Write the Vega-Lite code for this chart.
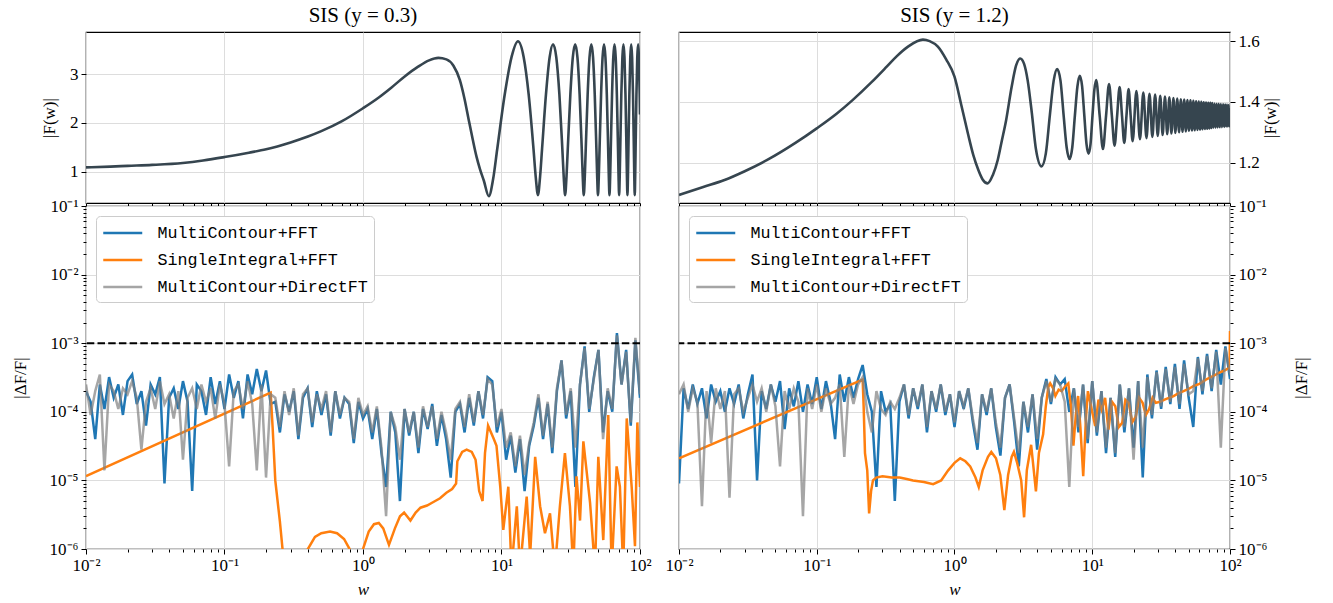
{
"$schema": "https://vega.github.io/schema/vega-lite/v6.json",
"background": "white",
"padding": {"left": 10, "top": 4, "right": 5, "bottom": 4},
"config": {
  "view": {"stroke": "black", "strokeWidth": 1.2},
  "axis": {"domain": false, "tickColor": "black", "tickWidth": 1, "labelFont": "Liberation Serif", "labelFontSize": 17, "labelColor": "black", "titleFont": "Liberation Serif", "titleFontSize": 17, "titleFontWeight": "normal", "titleColor": "black", "gridColor": "#dddddd", "gridWidth": 1, "labelPadding": 3, "labelFlush": false, "labelOverlap": false},
  "legend": {"orient": "top-left", "offset": 10, "symbolType": "M-1,0H3", "symbolSize": 380, "symbolStrokeWidth": 2.5, "labelFont": "Liberation Mono", "labelFontSize": 16.7, "labelLimit": 500, "labelColor": "black", "strokeColor": "#cccccc", "fillColor": "white", "cornerRadius": 4, "padding": 6, "rowPadding": 7, "labelOffset": 33.5},
  "title": {"font": "Liberation Serif", "fontSize": 21, "fontWeight": "normal", "color": "black", "offset": 6, "anchor": "middle"}
},
"datasets": {
"TL": [
{"w":0.01,"F":1.09},{"w":0.015,"F":1.105},{"w":0.02,"F":1.12},{"w":0.03,"F":1.14},{"w":0.05,"F":1.18},{"w":0.07,"F":1.23},{"w":0.1,"F":1.30},{"w":0.15,"F":1.39},{"w":0.2,"F":1.46},{"w":0.3,"F":1.60},{"w":0.4,"F":1.72},{"w":0.5,"F":1.83},{"w":0.7,"F":2.03},{"w":1.0,"F":2.30},{"w":1.3,"F":2.52},{"w":1.6,"F":2.72},{"w":2.0,"F":2.95},{"w":2.5,"F":3.15},{"w":3.0,"F":3.28},{"w":3.5,"F":3.33},{"w":4.0,"F":3.30},{"w":4.5,"F":3.17},{"w":5.0,"F":2.88},{"w":5.4,"F":2.50},{"w":5.8,"F":2.06},{"w":6.2,"F":1.66},{"w":6.6,"F":1.31},{"w":7.0,"F":1.05},{"w":7.45,"F":0.82},{"w":8.1,"F":0.50},{"w":8.7,"F":0.85},{"w":9.3,"F":1.45},{"w":10.55,"F":2.58},{"w":11.85,"F":3.36},{"w":13.15,"F":3.67},{"w":14.45,"F":3.35},{"w":15.708,"F":2.582},{"w":17.017,"F":1.473},{"w":17.672,"F":0.89},{"w":18.326,"F":0.52},{"w":18.98,"F":0.89},{"w":19.635,"F":1.473},{"w":20.944,"F":2.582},{"w":22.253,"F":3.341},{"w":23.562,"F":3.61},{"w":24.871,"F":3.341},{"w":26.18,"F":2.582},{"w":27.489,"F":1.473},{"w":28.144,"F":0.89},{"w":28.798,"F":0.52},{"w":29.452,"F":0.89},{"w":30.107,"F":1.473},{"w":31.416,"F":2.582},{"w":32.725,"F":3.341},{"w":34.034,"F":3.61},{"w":35.343,"F":3.341},{"w":36.652,"F":2.582},{"w":37.961,"F":1.473},{"w":38.616,"F":0.89},{"w":39.27,"F":0.52},{"w":39.924,"F":0.89},{"w":40.579,"F":1.473},{"w":41.888,"F":2.582},{"w":43.197,"F":3.341},{"w":44.506,"F":3.61},{"w":45.815,"F":3.341},{"w":47.124,"F":2.582},{"w":48.433,"F":1.473},{"w":49.088,"F":0.89},{"w":49.742,"F":0.52},{"w":50.396,"F":0.89},{"w":51.051,"F":1.473},{"w":52.36,"F":2.582},{"w":53.669,"F":3.341},{"w":54.978,"F":3.61},{"w":56.287,"F":3.341},{"w":57.596,"F":2.582},{"w":58.905,"F":1.473},{"w":59.56,"F":0.89},{"w":60.214,"F":0.52},{"w":60.868,"F":0.89},{"w":61.523,"F":1.473},{"w":62.832,"F":2.582},{"w":64.141,"F":3.341},{"w":65.45,"F":3.61},{"w":66.759,"F":3.341},{"w":68.068,"F":2.582},{"w":69.377,"F":1.473},{"w":70.032,"F":0.89},{"w":70.686,"F":0.52},{"w":71.34,"F":0.89},{"w":71.995,"F":1.473},{"w":73.304,"F":2.582},{"w":74.613,"F":3.341},{"w":75.922,"F":3.61},{"w":77.231,"F":3.341},{"w":78.54,"F":2.582},{"w":79.849,"F":1.473},{"w":80.504,"F":0.89},{"w":81.158,"F":0.52},{"w":81.812,"F":0.89},{"w":82.467,"F":1.473},{"w":83.776,"F":2.582},{"w":85.085,"F":3.341},{"w":86.394,"F":3.61},{"w":87.703,"F":3.341},{"w":89.012,"F":2.582},{"w":90.321,"F":1.473},{"w":90.976,"F":0.89},{"w":91.63,"F":0.52},{"w":92.284,"F":0.89},{"w":92.939,"F":1.473},{"w":94.248,"F":2.582},{"w":95.557,"F":3.341},{"w":96.866,"F":3.61},{"w":98.175,"F":3.341},{"w":99.484,"F":2.582},{"w":100,"F":2.17}
],
"TR": [
{"w":0.01,"F":1.094},{"w":0.015,"F":1.12},{"w":0.0214,"F":1.143},{"w":0.03,"F":1.172},{"w":0.0437,"F":1.209},{"w":0.07,"F":1.265},{"w":0.1,"F":1.313},{"w":0.14,"F":1.362},{"w":0.182,"F":1.406},{"w":0.25,"F":1.465},{"w":0.322,"F":1.516},{"w":0.38,"F":1.55},{"w":0.46,"F":1.582},{"w":0.59,"F":1.605},{"w":0.66,"F":1.600},{"w":0.757,"F":1.582},{"w":0.87,"F":1.54},{"w":1.0,"F":1.483},{"w":1.12,"F":1.39},{"w":1.25,"F":1.297},{"w":1.37,"F":1.225},{"w":1.49,"F":1.176},{"w":1.6,"F":1.145},{"w":1.74,"F":1.132},{"w":1.9,"F":1.16},{"w":2.06,"F":1.209},{"w":2.2,"F":1.27},{"w":2.37,"F":1.34},{"w":2.6,"F":1.45},{"w":2.8,"F":1.52},{"w":3.0,"F":1.543},{"w":3.2,"F":1.525},{"w":3.4,"F":1.47},{"w":3.64,"F":1.365},{"w":3.9,"F":1.245},{"w":4.28,"F":1.188},{"w":4.6,"F":1.23},{"w":4.92,"F":1.355},{"w":5.25,"F":1.47},{"w":5.56,"F":1.508},{"w":5.88,"F":1.47},{"w":6.2,"F":1.355},{"w":6.52,"F":1.25},{"w":6.84,"F":1.212},{"w":7.16,"F":1.25},{"w":7.48,"F":1.355},{"w":7.8,"F":1.45},{"w":8.12,"F":1.486},{"w":8.44,"F":1.452},{"w":8.76,"F":1.355},{"w":9.08,"F":1.262},{"w":9.4,"F":1.23},{"w":9.72,"F":1.262},{"w":10.04,"F":1.355},{"w":10.36,"F":1.44},{"w":10.68,"F":1.472},{"w":11.32,"F":1.355},{"w":11.96,"F":1.245},{"w":12.6,"F":1.355},{"w":13.24,"F":1.459},{"w":13.88,"F":1.355},{"w":14.52,"F":1.256},{"w":15.16,"F":1.355},{"w":15.8,"F":1.449},{"w":16.44,"F":1.355},{"w":17.08,"F":1.265},{"w":17.72,"F":1.355},{"w":18.36,"F":1.442},{"w":19.0,"F":1.355},{"w":19.64,"F":1.271},{"w":20.92,"F":1.436},{"w":22.2,"F":1.277},{"w":23.48,"F":1.431},{"w":24.76,"F":1.281},{"w":26.04,"F":1.427},{"w":27.32,"F":1.285},{"w":28.6,"F":1.424},{"w":29.88,"F":1.288},{"w":31.16,"F":1.42},{"w":32.44,"F":1.291},{"w":33.72,"F":1.418},{"w":35.0,"F":1.294},{"w":36.28,"F":1.415},{"w":37.56,"F":1.296},{"w":38.84,"F":1.413},{"w":40.12,"F":1.298},{"w":41.4,"F":1.411},{"w":42.68,"F":1.3},{"w":43.96,"F":1.409},{"w":45.24,"F":1.302},{"w":46.52,"F":1.408},{"w":47.8,"F":1.303},{"w":49.08,"F":1.406},{"w":50.36,"F":1.305},{"w":51.64,"F":1.405},{"w":52.92,"F":1.306},{"w":54.2,"F":1.404},{"w":55.48,"F":1.307},{"w":56.76,"F":1.402},{"w":58.04,"F":1.308},{"w":59.32,"F":1.401},{"w":60.6,"F":1.309},{"w":61.88,"F":1.4},{"w":63.16,"F":1.31},{"w":64.44,"F":1.399},{"w":65.72,"F":1.311},{"w":67.0,"F":1.398},{"w":68.28,"F":1.312},{"w":69.56,"F":1.397},{"w":70.84,"F":1.313},{"w":72.12,"F":1.397},{"w":73.4,"F":1.314},{"w":74.68,"F":1.396},{"w":75.96,"F":1.315},{"w":77.24,"F":1.395},{"w":78.52,"F":1.315},{"w":79.8,"F":1.394},{"w":81.08,"F":1.316},{"w":82.36,"F":1.394},{"w":83.64,"F":1.317},{"w":84.92,"F":1.393},{"w":86.2,"F":1.317},{"w":87.48,"F":1.392},{"w":88.76,"F":1.318},{"w":90.04,"F":1.392},{"w":91.32,"F":1.318},{"w":92.6,"F":1.391},{"w":93.88,"F":1.319},{"w":95.16,"F":1.391},{"w":96.44,"F":1.319},{"w":97.72,"F":1.39},{"w":99.0,"F":1.32},{"w":100,"F":1.38}
],
"LB": [
{"w":0.01,"b":2.0e-4,"g":2.5e-4},{"w":0.0108,"b":1.4e-4,"g":9e-5},{"w":0.01166,"b":4.0e-5,"g":2.0e-4},{"w":0.01259,"b":2.5e-4,"g":3.5e-4},{"w":0.01359,"b":1.1e-4,"g":1.4e-5},{"w":0.01468,"b":3.2e-4,"g":2.5e-4},{"w":0.01585,"b":1.6e-4,"g":2.0e-4},{"w":0.01711,"b":2.5e-4,"g":1.1e-4},{"w":0.01848,"b":9e-5,"g":2.2e-4},{"w":0.01995,"b":2.8e-4,"g":1.8e-4},
{"w":0.02154,"b":3.5e-4,"g":2.8e-4},{"w":0.02326,"b":1.3e-4,"g":1.6e-4},{"w":0.02512,"b":2.0e-4,"g":2.8e-5},{"w":0.02712,"b":6.3e-5,"g":1.4e-4},{"w":0.02929,"b":2.5e-4,"g":2.2e-4},{"w":0.03162,"b":1.8e-4,"g":1.1e-4},{"w":0.03415,"b":3.2e-4,"g":2.8e-4},{"w":0.03687,"b":9e-6,"g":1.3e-4},{"w":0.03981,"b":1.6e-4,"g":1.8e-4},{"w":0.04299,"b":2.2e-4,"g":8e-5},
{"w":0.04642,"b":1.1e-4,"g":2.0e-4},{"w":0.05012,"b":2.8e-4,"g":2.0e-5},{"w":0.05412,"b":1.4e-4,"g":1.6e-4},{"w":0.05843,"b":7e-6,"g":2.2e-4},{"w":0.0631,"b":2.5e-4,"g":1.1e-4},{"w":0.06813,"b":2.0e-4,"g":2.5e-4},{"w":0.07356,"b":9e-5,"g":1.4e-4},{"w":0.07943,"b":3.2e-4,"g":2.2e-4},{"w":0.08577,"b":1.3e-4,"g":8e-5},{"w":0.09261,"b":2.8e-4,"g":2.5e-4},
{"w":0.1,"b":1.1e-4,"g":1.3e-4},{"w":0.108,"b":3.5e-4,"g":1.6e-5},{"w":0.1166,"b":1.6e-4,"g":2.0e-4},{"w":0.1259,"b":2.8e-4,"g":2.5e-4},{"w":0.1359,"b":8e-5,"g":1.1e-4},{"w":0.1468,"b":3.5e-4,"g":2.8e-4},{"w":0.1585,"b":1.8e-4,"g":1.3e-4},{"w":0.1711,"b":4.2e-4,"g":1.4e-5},{"w":0.1848,"b":2.0e-4,"g":2.5e-4},{"w":0.1995,"b":4.0e-4,"g":1.1e-5},
{"w":0.2154,"b":1.3e-4,"g":1.8e-4},{"w":0.2326,"b":1.4e-4,"g":1.6e-4},{"w":0.2512,"b":5.0e-5,"g":6e-5},{"w":0.2712,"b":1.8e-4,"g":2.0e-4},{"w":0.2929,"b":1.0e-4,"g":9e-5},{"w":0.3162,"b":2.0e-4,"g":2.2e-4},{"w":0.3415,"b":4.0e-5,"g":4.5e-5},{"w":0.3687,"b":1.6e-4,"g":1.8e-4},{"w":0.3981,"b":2.2e-4,"g":2.2e-4},{"w":0.4299,"b":6e-5,"g":7e-5},
{"w":0.4642,"b":2.0e-4,"g":1.8e-4},{"w":0.5012,"b":9e-5,"g":1.1e-4},{"w":0.5412,"b":1.8e-4,"g":2.0e-4},{"w":0.5843,"b":4.5e-5,"g":5e-5},{"w":0.631,"b":2.0e-4,"g":2.0e-4},{"w":0.6813,"b":8e-5,"g":9e-5},{"w":0.7356,"b":1.6e-4,"g":1.6e-4},{"w":0.7943,"b":1.3e-4,"g":1.4e-4},{"w":0.8577,"b":3.5e-5,"g":4e-5},{"w":0.9261,"b":1.4e-4,"g":1.6e-4},
{"w":1.0,"b":8e-5,"g":9e-5},{"w":1.08,"b":1.1e-4,"g":1.2e-4},{"w":1.166,"b":4.0e-5,"g":5e-5},{"w":1.259,"b":1.1e-4,"g":1.2e-4},{"w":1.359,"b":2.5e-5,"g":3e-5},{"w":1.468,"b":8e-6,"g":3e-6},{"w":1.585,"b":1.0e-4,"g":1.0e-4},{"w":1.711,"b":5.0e-5,"g":6e-5},{"w":1.848,"b":5e-6,"g":2e-5},{"w":1.995,"b":1.1e-4,"g":1.1e-4},
{"w":2.154,"b":4.5e-5,"g":5e-5},{"w":2.326,"b":1.0e-4,"g":1.0e-4},{"w":2.512,"b":2.5e-5,"g":3e-5},{"w":2.712,"b":1.1e-4,"g":1.2e-4},{"w":2.929,"b":5.6e-5,"g":6e-5},{"w":3.162,"b":1.3e-4,"g":1.2e-4},{"w":3.415,"b":3.2e-5,"g":4e-5},{"w":3.687,"b":9e-5,"g":1.0e-4},{"w":3.981,"b":4.0e-5,"g":5e-5},{"w":4.299,"b":1.1e-5,"g":2e-5},
{"w":4.642,"b":1.0e-4,"g":1.1e-4},{"w":5.012,"b":1.3e-4,"g":1.4e-4},{"w":5.412,"b":5e-5,"g":6e-5},{"w":5.843,"b":1.6e-4,"g":1.8e-4},{"w":6.31,"b":6.3e-5,"g":7e-5},{"w":6.813,"b":2.0e-4,"g":2.0e-4},{"w":7.356,"b":8e-5,"g":9e-5},{"w":7.943,"b":3.2e-4,"g":3.0e-4},{"w":8.577,"b":2.8e-4,"g":2.5e-4},{"w":9.261,"b":5e-5,"g":6e-5},
{"w":10.0,"b":1.0e-4,"g":1.1e-4},{"w":10.8,"b":2.0e-5,"g":3e-5},{"w":11.66,"b":4.5e-5,"g":5e-5},{"w":12.59,"b":1.3e-5,"g":1.6e-5},{"w":13.59,"b":4.0e-5,"g":4.5e-5},{"w":14.68,"b":7e-6,"g":1.2e-5},{"w":15.85,"b":3.2e-5,"g":3.5e-5},{"w":17.11,"b":6.3e-5,"g":7e-5},{"w":18.48,"b":1.6e-4,"g":1.8e-4},{"w":19.95,"b":4.0e-5,"g":4.5e-5},
{"w":21.54,"b":1.3e-4,"g":1.4e-4},{"w":23.26,"b":2.5e-5,"g":3e-5},{"w":25.12,"b":2.0e-4,"g":2.2e-4},{"w":27.12,"b":5.6e-4,"g":5.6e-4},{"w":29.29,"b":8e-5,"g":9e-5},{"w":31.62,"b":2.0e-4,"g":2.2e-4},{"w":34.15,"b":8e-6,"g":3e-5},{"w":36.87,"b":2.5e-4,"g":2.5e-4},{"w":39.81,"b":9e-4,"g":8.5e-4},{"w":42.99,"b":1.0e-4,"g":1.1e-4},
{"w":46.42,"b":3.2e-4,"g":3.0e-4},{"w":50.12,"b":8e-4,"g":8e-4},{"w":54.12,"b":5e-5,"g":4e-5},{"w":58.43,"b":2.0e-4,"g":2.2e-4},{"w":63.1,"b":1.0e-4,"g":1.1e-4},{"w":68.13,"b":1.4e-3,"g":1.3e-3},{"w":73.56,"b":2.5e-4,"g":2.5e-4},{"w":79.43,"b":8e-4,"g":7.5e-4},{"w":85.77,"b":6.3e-5,"g":7e-5},{"w":92.61,"b":1.1e-3,"g":1.2e-3},{"w":100,"b":1.6e-4,"g":1.8e-4}
],
"LO": [
{"w":0.01,"v":1.15e-5},{"w":0.2154,"v":1.9e-4},{"w":0.2225,"v":6e-5},{"w":0.2326,"v":1e-5},{"w":0.2512,"v":2.5e-6},{"w":0.2712,"v":5e-7},{"w":0.3,"v":3e-7},{"w":0.37,"v":5e-7},{"w":0.4,"v":1.0e-6},{"w":0.45,"v":1.5e-6},{"w":0.5,"v":1.7e-6},{"w":0.578,"v":1.8e-6},{"w":0.65,"v":1.7e-6},{"w":0.73,"v":1.4e-6},{"w":0.8,"v":1.0e-6},{"w":0.85,"v":6e-7},{"w":0.95,"v":5e-7},{"w":1.0,"v":1.0e-6},{"w":1.1,"v":1.8e-6},{"w":1.2,"v":2.3e-6},{"w":1.3,"v":2.4e-6},{"w":1.4,"v":2.0e-6},{"w":1.54,"v":1.15e-6},{"w":1.7,"v":2.0e-6},{"w":1.85,"v":3.0e-6},{"w":1.98,"v":3.4e-6},{"w":2.2,"v":2.6e-6},{"w":2.4,"v":3.4e-6},{"w":2.6,"v":4.0e-6},{"w":2.9,"v":4.3e-6},{"w":3.2,"v":4.8e-6},{"w":3.6,"v":5.5e-6},{"w":4.0,"v":6.6e-6},{"w":4.4,"v":7.5e-6},{"w":4.7,"v":9e-6},{"w":4.8,"v":1.9e-5},{"w":5.2,"v":2.6e-5},{"w":5.6,"v":2.8e-5},{"w":6.1,"v":2.6e-5},{"w":6.5,"v":2.0e-5},{"w":6.9,"v":7e-6},{"w":7.3,"v":5e-6},{"w":7.6,"v":2.5e-5},{"w":8.0,"v":6.3e-5},{"w":8.4,"v":5e-5},{"w":8.8,"v":4e-5},{"w":9.2,"v":3.2e-5},{"w":9.8,"v":8e-6},
{"w":10.3,"v":1.9e-6},{"w":11.2,"v":8.1e-6},{"w":11.8,"v":5e-7},{"w":12.9,"v":4.2e-6},{"w":13.6,"v":5e-7},{"w":15.2,"v":5.8e-6},{"w":16.1,"v":8e-7},{"w":17.5,"v":2.2e-5},{"w":19.0,"v":4.2e-6},{"w":20.6,"v":1.7e-6},{"w":22.4,"v":3.3e-6},{"w":24.3,"v":5e-7},{"w":26.4,"v":4.2e-6},{"w":28.7,"v":2.5e-5},{"w":31.2,"v":4.2e-6},{"w":33.0,"v":5e-7},{"w":34.8,"v":1.15e-5},{"w":36.9,"v":2.6e-6},{"w":39.0,"v":3.7e-5},{"w":43.6,"v":4.7e-6},{"w":47.3,"v":5e-7},{"w":50.0,"v":2.2e-5},{"w":54.3,"v":1.35e-6},{"w":59.0,"v":9e-5},{"w":62.4,"v":5e-7},{"w":67.8,"v":1.6e-5},{"w":71.6,"v":8.1e-6},{"w":75.7,"v":5e-7},{"w":80.2,"v":8e-5},{"w":87.1,"v":8e-6},{"w":92.0,"v":1.1e-6},{"w":95.7,"v":7e-5},{"w":100,"v":8e-6}
],
"RB": [
{"w":0.01,"b":9e-6,"g":1.8e-4},{"w":0.0108,"b":2.2e-4,"g":2.5e-4},{"w":0.01166,"b":1.1e-4,"g":1.0e-4},{"w":0.01259,"b":2.5e-4,"g":2.2e-4},{"w":0.01359,"b":1.3e-4,"g":1.4e-4},{"w":0.01468,"b":2.2e-4,"g":4.2e-6},{"w":0.01585,"b":8e-5,"g":2.0e-4},{"w":0.01711,"b":2.5e-4,"g":3.5e-5},{"w":0.01848,"b":1.4e-4,"g":2.2e-4},{"w":0.01995,"b":2.0e-4,"g":1.1e-4},
{"w":0.02154,"b":1.0e-4,"g":2.0e-4},{"w":0.02326,"b":2.2e-4,"g":5.6e-6},{"w":0.02512,"b":1.3e-4,"g":1.8e-4},{"w":0.02712,"b":2.5e-4,"g":2.2e-4},{"w":0.02929,"b":8e-5,"g":1.0e-4},{"w":0.03162,"b":1.8e-4,"g":1.6e-4},{"w":0.03415,"b":3.5e-4,"g":2.5e-4},{"w":0.03687,"b":1.0e-5,"g":1.4e-4},{"w":0.03981,"b":2.0e-4,"g":2.2e-4},{"w":0.04299,"b":1.1e-4,"g":1.0e-4},
{"w":0.04642,"b":2.5e-4,"g":2.5e-4},{"w":0.05012,"b":1.4e-4,"g":1.2e-4},{"w":0.05412,"b":2.8e-4,"g":1.6e-5},{"w":0.05843,"b":5.6e-5,"g":2.0e-4},{"w":0.0631,"b":2.2e-4,"g":1.1e-4},{"w":0.06813,"b":1.2e-4,"g":2.2e-4},{"w":0.07356,"b":2.8e-4,"g":1.4e-4},{"w":0.07943,"b":1.0e-4,"g":3e-6},{"w":0.08577,"b":2.5e-4,"g":2.2e-4},{"w":0.09261,"b":1.3e-4,"g":1.1e-4},
{"w":0.1,"b":3.2e-4,"g":2.5e-4},{"w":0.108,"b":1.1e-4,"g":1.0e-4},{"w":0.1166,"b":2.8e-4,"g":2.2e-4},{"w":0.1259,"b":1.4e-4,"g":1.3e-4},{"w":0.1359,"b":4.0e-5,"g":1.6e-4},{"w":0.1468,"b":3.5e-4,"g":2.5e-4},{"w":0.1585,"b":1.4e-4,"g":2.2e-5},{"w":0.1711,"b":3.2e-4,"g":2.5e-4},{"w":0.1848,"b":1.6e-4,"g":1.3e-4},{"w":0.1995,"b":3.0e-4,"g":2.5e-4},
{"w":0.2154,"b":4.8e-4,"g":3.2e-4},{"w":0.2326,"b":1.8e-4,"g":1.0e-4},{"w":0.2512,"b":1.0e-4,"g":5e-5},{"w":0.2712,"b":8e-6,"g":2.0e-4},{"w":0.2929,"b":2.0e-4,"g":1.1e-4},{"w":0.3162,"b":1.0e-4,"g":9e-5},{"w":0.3415,"b":1.3e-4,"g":1.4e-4},{"w":0.3687,"b":5e-6,"g":1.1e-4},{"w":0.3981,"b":1.4e-4,"g":1.6e-4},{"w":0.4299,"b":2.5e-4,"g":2.5e-4},
{"w":0.4642,"b":8e-5,"g":9e-5},{"w":0.5012,"b":2.2e-4,"g":2.2e-4},{"w":0.5412,"b":1.1e-4,"g":1.2e-4},{"w":0.5843,"b":2.5e-4,"g":2.5e-4},{"w":0.631,"b":5e-5,"g":6e-5},{"w":0.6813,"b":2.0e-4,"g":2.0e-4},{"w":0.7356,"b":1.0e-4,"g":1.1e-4},{"w":0.7943,"b":2.5e-4,"g":2.5e-4},{"w":0.8577,"b":9e-5,"g":1.0e-4},{"w":0.9261,"b":1.8e-4,"g":1.8e-4},
{"w":1.0,"b":6e-5,"g":7e-5},{"w":1.08,"b":2.0e-4,"g":2.0e-4},{"w":1.166,"b":1.1e-4,"g":1.2e-4},{"w":1.259,"b":2.2e-4,"g":2.2e-4},{"w":1.359,"b":7e-5,"g":8e-5},{"w":1.468,"b":2.8e-5,"g":3.5e-5},{"w":1.585,"b":1.8e-4,"g":1.8e-4},{"w":1.711,"b":9e-5,"g":1.0e-4},{"w":1.848,"b":2.2e-4,"g":2.2e-4},{"w":1.995,"b":6e-5,"g":7e-5},
{"w":2.154,"b":2.3e-5,"g":3e-5},{"w":2.326,"b":1.6e-4,"g":1.6e-4},{"w":2.512,"b":2.5e-4,"g":2.5e-4},{"w":2.712,"b":7e-5,"g":8e-5},{"w":2.929,"b":1.6e-5,"g":2.5e-5},{"w":3.162,"b":1.4e-4,"g":1.4e-4},{"w":3.415,"b":5e-5,"g":6e-5},{"w":3.687,"b":1.8e-4,"g":1.8e-4},{"w":3.981,"b":2.8e-5,"g":4e-5},{"w":4.299,"b":1.6e-4,"g":1.6e-4},
{"w":4.642,"b":3.0e-4,"g":2.8e-4},{"w":5.012,"b":1.3e-4,"g":1.4e-4},{"w":5.412,"b":3.2e-4,"g":3.0e-4},{"w":5.843,"b":2.5e-4,"g":2.5e-4},{"w":6.31,"b":3.0e-4,"g":1.4e-4},{"w":6.813,"b":1.0e-4,"g":8e-6},{"w":7.356,"b":2.2e-4,"g":2.2e-4},{"w":7.943,"b":5e-5,"g":6e-5},{"w":8.577,"b":2.5e-4,"g":2.5e-4},{"w":9.261,"b":3.5e-5,"g":4e-5},
{"w":10.0,"b":2.8e-4,"g":2.8e-4},{"w":10.8,"b":4.5e-5,"g":5e-5},{"w":11.66,"b":2.0e-4,"g":2.0e-4},{"w":12.59,"b":2.5e-5,"g":3e-5},{"w":13.59,"b":1.6e-4,"g":1.6e-4},{"w":14.68,"b":2.2e-5,"g":2.5e-5},{"w":15.85,"b":2.5e-4,"g":2.5e-4},{"w":17.11,"b":5e-5,"g":6e-5},{"w":18.48,"b":2.2e-4,"g":2.2e-4},{"w":19.95,"b":3e-5,"g":2e-5},
{"w":21.54,"b":2.8e-4,"g":2.8e-4},{"w":23.26,"b":1.1e-5,"g":3e-5},{"w":25.12,"b":3.5e-4,"g":3.2e-4},{"w":27.12,"b":8e-5,"g":9e-5},{"w":29.29,"b":4.0e-4,"g":3.8e-4},{"w":31.62,"b":1.1e-4,"g":1.2e-4},{"w":34.15,"b":4.5e-4,"g":4.2e-4},{"w":36.87,"b":1.3e-4,"g":1.4e-4},{"w":39.81,"b":5.0e-4,"g":4.5e-4},{"w":42.99,"b":1.1e-4,"g":1.3e-4},
{"w":46.42,"b":5.6e-4,"g":5.0e-4},{"w":50.12,"b":1.6e-4,"g":1.8e-4},{"w":54.12,"b":6e-5,"g":2.0e-4},{"w":58.43,"b":6.3e-4,"g":6.0e-4},{"w":63.1,"b":1.8e-4,"g":2.0e-4},{"w":68.13,"b":7e-4,"g":6.5e-4},{"w":73.56,"b":2.0e-4,"g":2.2e-4},{"w":79.43,"b":8e-4,"g":7.5e-4},{"w":85.77,"b":2.5e-4,"g":3e-5},{"w":92.61,"b":9e-4,"g":8.5e-4},{"w":100,"b":3.0e-4,"g":3.5e-4}
],
"RO": [
{"w":0.01,"v":2.1e-5},{"w":0.2154,"v":2.95e-4},{"w":0.219,"v":1.2e-4},{"w":0.224,"v":2.5e-5},{"w":0.2326,"v":1.4e-5},{"w":0.24,"v":3.3e-6},{"w":0.248,"v":7e-6},{"w":0.256,"v":1.0e-5},{"w":0.27,"v":1.1e-5},{"w":0.3,"v":1.15e-5},{"w":0.35,"v":1.1e-5},{"w":0.4,"v":1.1e-5},{"w":0.45,"v":1.05e-5},{"w":0.5,"v":1.0e-5},{"w":0.6,"v":9.5e-6},{"w":0.7,"v":8.8e-6},{"w":0.8,"v":1.0e-5},{"w":0.9,"v":1.4e-5},{"w":1.0,"v":1.8e-5},{"w":1.1,"v":2.1e-5},{"w":1.2,"v":1.9e-5},{"w":1.3,"v":1.6e-5},{"w":1.42,"v":1.1e-5},{"w":1.5,"v":8e-6},{"w":1.6,"v":1.4e-5},{"w":1.75,"v":2.2e-5},{"w":1.85,"v":2.6e-5},{"w":2.0,"v":2.1e-5},{"w":2.15,"v":1.2e-5},{"w":2.3,"v":3.7e-6},{"w":2.45,"v":1.2e-5},{"w":2.6,"v":2.2e-5},{"w":2.7,"v":2.6e-5},{"w":2.85,"v":1.8e-5},{"w":3.05,"v":1.0e-5},{"w":3.2,"v":2.9e-6},{"w":3.35,"v":1.4e-5},{"w":3.6,"v":3.3e-5},{"w":3.75,"v":1.5e-5},{"w":3.9,"v":6.9e-6},{"w":4.1,"v":2.5e-5},{"w":4.4,"v":4.7e-5},{"w":4.6,"v":1.2e-4},{"w":4.8,"v":2.3e-4},{"w":4.95,"v":2.6e-4},{"w":5.2,"v":2.2e-4},{"w":5.4,"v":1.7e-4},{"w":5.7,"v":2.1e-4},{"w":6.0,"v":2.0e-4},{"w":6.3,"v":2.3e-4},{"w":6.7,"v":2.6e-4},{"w":7.0,"v":1.2e-4},{"w":7.3,"v":3.2e-5},{"w":7.6,"v":9e-5},{"w":7.9,"v":1.7e-4},{"w":8.2,"v":6e-5},{"w":8.6,"v":1.15e-5},{"w":9.0,"v":8e-5},{"w":9.3,"v":2.0e-4},{"w":9.8,"v":1.2e-4},{"w":10.5,"v":6.2e-5},{"w":11.1,"v":1.5e-4},{"w":11.7,"v":1.07e-4},{"w":12.4,"v":1.6e-4},{"w":13.1,"v":5.5e-5},{"w":13.9,"v":1.4e-4},{"w":14.7,"v":1.2e-4},{"w":15.6,"v":6e-5},{"w":16.5,"v":6.9e-5},{"w":17.4,"v":1.5e-4},{"w":18.4,"v":1.35e-4},{"w":19.5,"v":7e-5},{"w":20.7,"v":8.5e-5},{"w":21.9,"v":1.6e-4},{"w":23.2,"v":1.35e-4},{"w":24.5,"v":9e-5},{"w":25.9,"v":1.1e-4},{"w":27.4,"v":1.6e-4},{"w":28.9,"v":1.35e-4},{"w":31.0,"v":1.4e-4},{"w":33.5,"v":1.5e-4},{"w":36.0,"v":1.6e-4},{"w":39.0,"v":1.7e-4},{"w":42.0,"v":1.85e-4},{"w":46.0,"v":2.0e-4},{"w":50.0,"v":2.15e-4},{"w":55.0,"v":2.4e-4},{"w":60.0,"v":2.55e-4},{"w":68.0,"v":3.0e-4},{"w":75.0,"v":3.3e-4},{"w":83.0,"v":3.7e-4},{"w":91.0,"v":4.0e-4},{"w":99.3,"v":4.4e-4},{"w":100,"v":1.5e-3}
]
},
"columns": 2,
"spacing": {"row": 3, "column": 39},
"bounds": "flush",
"resolve": {"scale": {"color": "independent", "x": "independent", "y": "independent"}, "legend": {"color": "independent"}},
"concat": [
  {"width": 554, "height": 171,
   "title": {"text": "SIS (y = 0.3)"},
   "data": {"name": "TL"},
   "mark": {"type": "line", "color": "#36454f", "strokeWidth": 2.6, "interpolate": "monotone", "clip": true},
   "encoding": {
    "x": {"field": "w", "type": "quantitative", "scale": {"type": "log", "domain": [0.01, 100], "nice": false},
          "axis": {"values": [0.01,0.02,0.03,0.04,0.05,0.06,0.07,0.08,0.09,0.1,0.2,0.3,0.4,0.5,0.6,0.7,0.8,0.9,1,2,3,4,5,6,7,8,9,10,20,30,40,50,60,70,80,90,100], "labels": false, "title": null,
                   "tickSize": {"condition": {"test": "abs(log(datum.value)/LN10 - round(log(datum.value)/LN10)) < 0.001", "value": 5}, "value": 3},
                   "gridOpacity": {"condition": {"test": "abs(log(datum.value)/LN10 - round(log(datum.value)/LN10)) < 0.001", "value": 1}, "value": 0}}},
    "y": {"field": "F", "type": "quantitative", "scale": {"domain": [0.36, 3.86], "nice": false, "zero": false},
          "axis": {"values": [1, 2, 3], "format": "d", "title": "|F(w)|", "tickSize": 5, "titlePadding": 11}}
   }},
  {"width": 551, "height": 171,
   "title": {"text": "SIS (y = 1.2)"},
   "data": {"name": "TR"},
   "mark": {"type": "line", "color": "#36454f", "strokeWidth": 2.6, "interpolate": "monotone", "clip": true},
   "encoding": {
    "x": {"field": "w", "type": "quantitative", "scale": {"type": "log", "domain": [0.01, 100], "nice": false},
          "axis": {"values": [0.01,0.02,0.03,0.04,0.05,0.06,0.07,0.08,0.09,0.1,0.2,0.3,0.4,0.5,0.6,0.7,0.8,0.9,1,2,3,4,5,6,7,8,9,10,20,30,40,50,60,70,80,90,100], "labels": false, "title": null,
                   "tickSize": {"condition": {"test": "abs(log(datum.value)/LN10 - round(log(datum.value)/LN10)) < 0.001", "value": 5}, "value": 3},
                   "gridOpacity": {"condition": {"test": "abs(log(datum.value)/LN10 - round(log(datum.value)/LN10)) < 0.001", "value": 1}, "value": 0}}},
    "y": {"field": "F", "type": "quantitative", "scale": {"domain": [1.0675, 1.63], "nice": false, "zero": false},
          "axis": {"orient": "right", "values": [1.2, 1.4, 1.6], "format": ".1f", "title": "|F(w)|", "tickSize": 5, "titlePadding": 3, "titleAngle": 270, "titleBaseline": "top"}}
   }},
  {"width": 554, "height": 343,
   "layer": [
    {"data": {"name": "LB"}, "mark": {"type": "line", "strokeWidth": 2.5, "clip": true},
     "encoding": {
      "x": {"field": "w", "type": "quantitative", "title": "w", "scale": {"type": "log", "domain": [0.01, 100], "nice": false},
            "axis": {"values": [0.01,0.02,0.03,0.04,0.05,0.06,0.07,0.08,0.09,0.1,0.2,0.3,0.4,0.5,0.6,0.7,0.8,0.9,1,2,3,4,5,6,7,8,9,10,20,30,40,50,60,70,80,90,100],
                     "labelExpr": "abs(log(datum.value)/LN10 - round(log(datum.value)/LN10)) < 0.001 ? '10' + (round(log(datum.value)/LN10) < 0 ? '⁻' : '') + ['⁰','¹','²','³','⁴','⁵','⁶'][abs(round(log(datum.value)/LN10))] : ''",
                     "tickSize": {"condition": {"test": "abs(log(datum.value)/LN10 - round(log(datum.value)/LN10)) < 0.001", "value": 5}, "value": 3},
                     "gridOpacity": {"condition": {"test": "abs(log(datum.value)/LN10 - round(log(datum.value)/LN10)) < 0.001", "value": 1}, "value": 0},
                     "titleFontStyle": "italic", "titlePadding": 8}},
      "y": {"field": "b", "type": "quantitative", "title": "|ΔF/F|", "scale": {"type": "log", "domain": [1e-6, 0.1], "nice": false},
            "axis": {"values": [1e-6,2e-6,3e-6,4e-6,5e-6,6e-6,7e-6,8e-6,9e-6,1e-5,2e-5,3e-5,4e-5,5e-5,6e-5,7e-5,8e-5,9e-5,1e-4,2e-4,3e-4,4e-4,5e-4,6e-4,7e-4,8e-4,9e-4,1e-3,2e-3,3e-3,4e-3,5e-3,6e-3,7e-3,8e-3,9e-3,1e-2,2e-2,3e-2,4e-2,5e-2,6e-2,7e-2,8e-2,9e-2,0.1],
                     "labelExpr": "abs(log(datum.value)/LN10 - round(log(datum.value)/LN10)) < 0.001 ? '10' + (round(log(datum.value)/LN10) < 0 ? '⁻' : '') + ['⁰','¹','²','³','⁴','⁵','⁶'][abs(round(log(datum.value)/LN10))] : ''",
                     "tickSize": {"condition": {"test": "abs(log(datum.value)/LN10 - round(log(datum.value)/LN10)) < 0.001", "value": 5}, "value": 3},
                     "gridOpacity": {"condition": {"test": "abs(log(datum.value)/LN10 - round(log(datum.value)/LN10)) < 0.001", "value": 1}, "value": 0},
                     "titlePadding": 20}},
      "color": {"datum": "MultiContour+FFT",
                "scale": {"domain": ["MultiContour+FFT", "SingleIntegral+FFT", "MultiContour+DirectFT"], "range": ["#1f77b4", "#ff7f0e", "#808080"]},
                "legend": {"title": null, "symbolType": "M-1,0H3", "encode": {"symbols": {"update": {"opacity": {"signal": "datum.value === 'MultiContour+DirectFT' ? 0.7 : 1"}}}}}}
     }},
    {"data": {"name": "LO"}, "mark": {"type": "line", "strokeWidth": 2.5, "clip": true},
     "encoding": {
      "x": {"field": "w", "type": "quantitative", "title": "w", "scale": {"type": "log", "domain": [0.01, 100], "nice": false}},
      "y": {"field": "v", "type": "quantitative", "title": "|ΔF/F|", "scale": {"type": "log", "domain": [1e-6, 0.1], "nice": false}},
      "color": {"datum": "SingleIntegral+FFT"}
     }},
    {"data": {"name": "LB"}, "mark": {"type": "line", "strokeWidth": 2.5, "clip": true, "opacity": 0.7},
     "encoding": {
      "x": {"field": "w", "type": "quantitative", "title": "w", "scale": {"type": "log", "domain": [0.01, 100], "nice": false}},
      "y": {"field": "g", "type": "quantitative", "title": "|ΔF/F|", "scale": {"type": "log", "domain": [1e-6, 0.1], "nice": false}},
      "color": {"datum": "MultiContour+DirectFT"}
     }},
    {"data": {"values": [{}]}, "mark": {"type": "rule", "color": "black", "strokeWidth": 2, "strokeDash": [7.5, 3.2]},
     "encoding": {"y": {"datum": 0.001, "type": "quantitative", "title": "|ΔF/F|", "scale": {"type": "log", "domain": [1e-6, 0.1], "nice": false}}}}
   ]},
  {"width": 551, "height": 343,
   "layer": [
    {"data": {"name": "RB"}, "mark": {"type": "line", "strokeWidth": 2.5, "clip": true},
     "encoding": {
      "x": {"field": "w", "type": "quantitative", "title": "w", "scale": {"type": "log", "domain": [0.01, 100], "nice": false},
            "axis": {"values": [0.01,0.02,0.03,0.04,0.05,0.06,0.07,0.08,0.09,0.1,0.2,0.3,0.4,0.5,0.6,0.7,0.8,0.9,1,2,3,4,5,6,7,8,9,10,20,30,40,50,60,70,80,90,100],
                     "labelExpr": "abs(log(datum.value)/LN10 - round(log(datum.value)/LN10)) < 0.001 ? '10' + (round(log(datum.value)/LN10) < 0 ? '⁻' : '') + ['⁰','¹','²','³','⁴','⁵','⁶'][abs(round(log(datum.value)/LN10))] : ''",
                     "tickSize": {"condition": {"test": "abs(log(datum.value)/LN10 - round(log(datum.value)/LN10)) < 0.001", "value": 5}, "value": 3},
                     "gridOpacity": {"condition": {"test": "abs(log(datum.value)/LN10 - round(log(datum.value)/LN10)) < 0.001", "value": 1}, "value": 0},
                     "titleFontStyle": "italic", "titlePadding": 8}},
      "y": {"field": "b", "type": "quantitative", "title": "|ΔF/F|", "scale": {"type": "log", "domain": [1e-6, 0.1], "nice": false},
            "axis": {"orient": "right", "values": [1e-6,2e-6,3e-6,4e-6,5e-6,6e-6,7e-6,8e-6,9e-6,1e-5,2e-5,3e-5,4e-5,5e-5,6e-5,7e-5,8e-5,9e-5,1e-4,2e-4,3e-4,4e-4,5e-4,6e-4,7e-4,8e-4,9e-4,1e-3,2e-3,3e-3,4e-3,5e-3,6e-3,7e-3,8e-3,9e-3,1e-2,2e-2,3e-2,4e-2,5e-2,6e-2,7e-2,8e-2,9e-2,0.1],
                     "labelExpr": "abs(log(datum.value)/LN10 - round(log(datum.value)/LN10)) < 0.001 ? '10' + (round(log(datum.value)/LN10) < 0 ? '⁻' : '') + ['⁰','¹','²','³','⁴','⁵','⁶'][abs(round(log(datum.value)/LN10))] : ''",
                     "tickSize": {"condition": {"test": "abs(log(datum.value)/LN10 - round(log(datum.value)/LN10)) < 0.001", "value": 5}, "value": 3},
                     "gridOpacity": {"condition": {"test": "abs(log(datum.value)/LN10 - round(log(datum.value)/LN10)) < 0.001", "value": 1}, "value": 0},
                     "titlePadding": 27, "titleAngle": 270, "titleBaseline": "top"}},
      "color": {"datum": "MultiContour+FFT",
                "scale": {"domain": ["MultiContour+FFT", "SingleIntegral+FFT", "MultiContour+DirectFT"], "range": ["#1f77b4", "#ff7f0e", "#808080"]},
                "legend": {"title": null, "symbolType": "M-1,0H3", "encode": {"symbols": {"update": {"opacity": {"signal": "datum.value === 'MultiContour+DirectFT' ? 0.7 : 1"}}}}}}
     }},
    {"data": {"name": "RO"}, "mark": {"type": "line", "strokeWidth": 2.5, "clip": true},
     "encoding": {
      "x": {"field": "w", "type": "quantitative", "title": "w", "scale": {"type": "log", "domain": [0.01, 100], "nice": false}},
      "y": {"field": "v", "type": "quantitative", "title": "|ΔF/F|", "scale": {"type": "log", "domain": [1e-6, 0.1], "nice": false}},
      "color": {"datum": "SingleIntegral+FFT"}
     }},
    {"data": {"name": "RB"}, "mark": {"type": "line", "strokeWidth": 2.5, "clip": true, "opacity": 0.7},
     "encoding": {
      "x": {"field": "w", "type": "quantitative", "title": "w", "scale": {"type": "log", "domain": [0.01, 100], "nice": false}},
      "y": {"field": "g", "type": "quantitative", "title": "|ΔF/F|", "scale": {"type": "log", "domain": [1e-6, 0.1], "nice": false}},
      "color": {"datum": "MultiContour+DirectFT"}
     }},
    {"data": {"values": [{}]}, "mark": {"type": "rule", "color": "black", "strokeWidth": 2, "strokeDash": [7.5, 3.2]},
     "encoding": {"y": {"datum": 0.001, "type": "quantitative", "title": "|ΔF/F|", "scale": {"type": "log", "domain": [1e-6, 0.1], "nice": false}}}}
   ]}
]
}
